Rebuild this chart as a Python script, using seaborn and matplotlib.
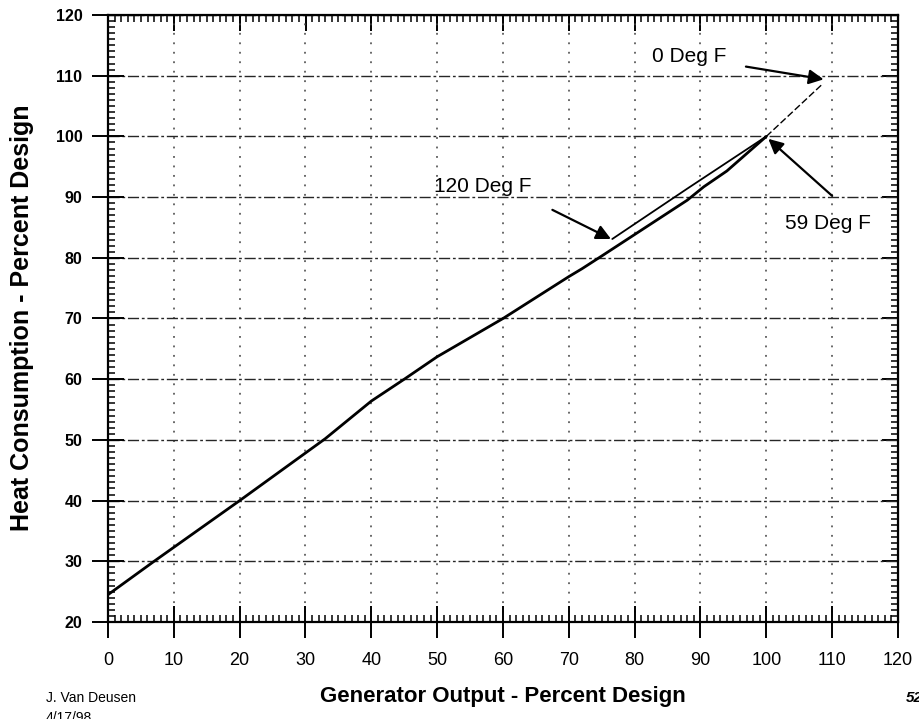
import matplotlib
matplotlib.use("Agg")
import matplotlib.pyplot as plt
from matplotlib.ticker import MultipleLocator
import seaborn as sns
import pandas as pd

# 59 Deg F (design) curve
base_x = [0, 7, 20, 33, 40, 45, 50, 60, 70, 72, 75, 88, 90.5, 94, 100]
base_y = [24.5, 30, 40, 50.2, 56.4, 60, 63.7, 70, 76.9, 78.2, 80.3, 89.5, 91.7, 94.3, 100]

# 120 Deg F branch
hot_x = [76.6, 88, 100]
hot_y = [83.1, 91.4, 100]

# 0 Deg F extension
cold_x = [100, 108.6]
cold_y = [100, 108.7]

x_ticks = list(range(0, 121, 10))
y_ticks = list(range(20, 121, 10))

sns.set_style("white")
plt.rcParams['font.family'] = ['Liberation Sans', 'DejaVu Sans']
plt.rcParams['text.color'] = 'black'
plt.rcParams['xtick.color'] = 'black'
plt.rcParams['ytick.color'] = 'black'

fig = plt.figure(figsize=(9.2, 7.19), dpi=100)
ax = fig.add_axes([108 / 920, 1 - 622 / 719, 790 / 920, 607 / 719])

base = pd.DataFrame({'x': base_x, 'y': base_y})
hot = pd.DataFrame({'x': hot_x, 'y': hot_y})
cold = pd.DataFrame({'x': cold_x, 'y': cold_y})

sns.lineplot(data=base, x='x', y='y', ax=ax, color='black', lw=2.0, sort=False)
sns.lineplot(data=hot, x='x', y='y', ax=ax, color='black', lw=1.3, sort=False)
sns.lineplot(data=cold, x='x', y='y', ax=ax, color='black', lw=1.0, sort=False,
             linestyle=(0, (5, 2)))

ax.set_xlim(0, 120)
ax.set_ylim(20, 120)
ax.set_xticks(x_ticks)
ax.set_yticks(y_ticks)
ax.xaxis.set_minor_locator(MultipleLocator(1))
ax.yaxis.set_minor_locator(MultipleLocator(1))
ax.set_xlabel('')
ax.set_ylabel('')

# grid: dash-dot rows, sparse dotted columns
ax.yaxis.grid(True, linestyle=(0, (8, 2, 2, 2)), lw=1.0, color='0.15')
ax.xaxis.grid(True, linestyle=(0, (1.2, 5)), lw=1.1, color='0.25')

for s in ax.spines.values():
    s.set_linewidth(1.6)
    s.set_color('black')

ax.tick_params(bottom=True, left=True, top=False, right=False, which='both')
ax.tick_params(axis='x', which='major', direction='inout', length=23, width=1.4,
               labelsize=13, pad=10)
ax.tick_params(axis='y', which='major', direction='inout', length=23, width=1.4,
               labelsize=11.5, pad=7)
ax.tick_params(which='minor', direction='in', length=5, width=1.1)
for lab in ax.get_yticklabels():
    lab.set_fontweight('bold')

# top and right: inward ticks only
top = ax.secondary_xaxis('top')
top.set_xticks(x_ticks)
top.xaxis.set_minor_locator(MultipleLocator(1))
top.tick_params(which='major', direction='in', length=11.5, width=1.4, labeltop=False)
top.tick_params(which='minor', direction='in', length=5, width=1.1)
right = ax.secondary_yaxis('right')
right.set_yticks(y_ticks)
right.yaxis.set_minor_locator(MultipleLocator(1))
right.tick_params(which='major', direction='in', length=11.5, width=1.4, labelright=False)
right.tick_params(which='minor', direction='in', length=5, width=1.1)

arrow = dict(arrowstyle='-|>', color='black', lw=1.6, mutation_scale=22,
             shrinkA=0, shrinkB=0)
ax.annotate('', xy=(108.7, 109.4), xytext=(96.9, 111.5), arrowprops=arrow)
ax.annotate('', xy=(100.3, 99.6), xytext=(110, 90.2), arrowprops=arrow)
ax.annotate('', xy=(76.4, 83.1), xytext=(67.5, 87.9), arrowprops=arrow)

ax.text(82.7, 113.1, '0 Deg F', fontsize=15, ha='left', va='center')
ax.text(102.8, 85.7, '59 Deg F', fontsize=15, ha='left', va='center')
ax.text(49.5, 91.7, '120 Deg F', fontsize=15, ha='left', va='center')

fig.text(22 / 920, 1 - 318 / 719, 'Heat Consumption - Percent Design', rotation=90,
         fontsize=18, fontweight='bold', ha='center', va='center')
fig.text(503 / 920, 1 - 702 / 719, 'Generator Output - Percent Design',
         fontsize=16, fontweight='bold', ha='center', va='baseline')
fig.text(46 / 920, 1 - 702 / 719, 'J. Van Deusen', fontsize=10, ha='left', va='baseline')
fig.text(46 / 920, 1 - 711 / 719, '4/17/98', fontsize=10, ha='left', va='top')
fig.text(906 / 920, 1 - 702 / 719, '522', fontsize=11, fontweight='bold',
         style='italic', ha='left', va='baseline')

fig.savefig('out.png', dpi=100)
